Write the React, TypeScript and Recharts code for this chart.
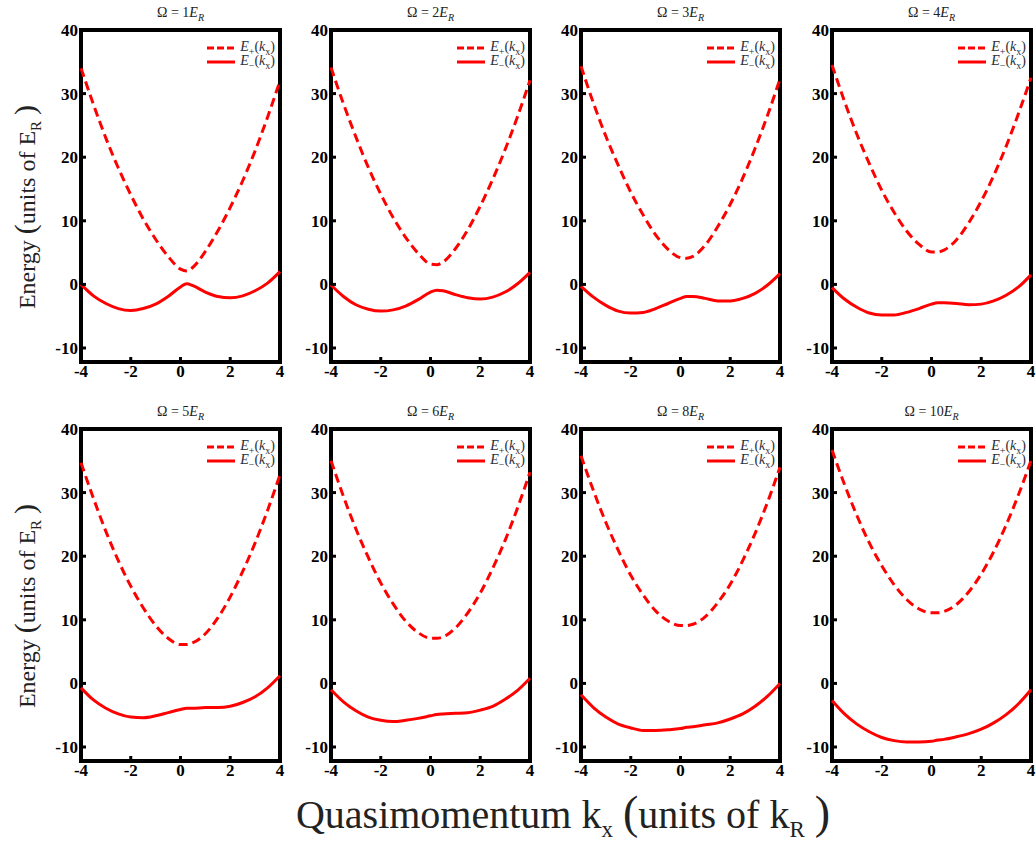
import { LineChart, Line, XAxis, YAxis, ReferenceArea, Legend } from "recharts";

const SERIF = "'Liberation Serif', 'Times New Roman', 'DejaVu Serif', serif";
const RED = "#ff0000";

const kx = [-4, -3.5, -3, -2.5, -2, -1.5, -1, -0.5, 0, 0.25, 0.5, 1, 1.5, 2, 2.5, 3, 3.5, 4];
const xTicks = [-4, -2, 0, 2, 4];
const yTicks = [-10, 0, 10, 20, 30, 40];
const omegas = [1, 2, 3, 4, 5, 6, 8, 10];

// E+ (dashed) and E- (solid)
const ePlus1 = [34.0, 28.3, 23.0, 18.3, 14.1, 10.3, 7.1, 4.4, 2.4, 2.1, 2.7, 5.2, 8.4, 12.1, 16.3, 21.0, 26.3, 32.0];
const eMinus1 = [0.0, -1.8, -3.0, -3.8, -4.1, -3.8, -3.1, -1.9, -0.4, 0.1, -0.2, -1.2, -1.9, -2.1, -1.8, -1.0, 0.2, 2.0];
const ePlus2 = [34.1, 28.4, 23.2, 18.4, 14.2, 10.5, 7.4, 4.9, 3.2, 3.1, 3.5, 5.6, 8.6, 12.3, 16.5, 21.2, 26.4, 32.1];
const eMinus2 = [-0.1, -1.9, -3.2, -3.9, -4.2, -4.0, -3.4, -2.4, -1.2, -0.9, -1.0, -1.6, -2.1, -2.3, -2.0, -1.2, 0.1, 1.9];
const ePlus3 = [34.3, 28.5, 23.3, 18.7, 14.5, 10.9, 7.8, 5.5, 4.2, 4.1, 4.4, 6.2, 9.1, 12.6, 16.7, 21.4, 26.6, 32.3];
const eMinus3 = [-0.3, -2.0, -3.3, -4.2, -4.5, -4.4, -3.8, -3.0, -2.2, -1.9, -1.9, -2.2, -2.6, -2.6, -2.2, -1.4, -0.1, 1.7];
const ePlus4 = [34.5, 28.8, 23.6, 19.0, 14.8, 11.3, 8.4, 6.3, 5.1, 5.1, 5.4, 7.0, 9.7, 13.1, 17.1, 21.7, 26.9, 32.5];
const eMinus4 = [-0.5, -2.3, -3.6, -4.5, -4.8, -4.8, -4.4, -3.8, -3.1, -2.9, -2.9, -3.0, -3.2, -3.1, -2.6, -1.7, -0.4, 1.5];
const ePlus5 = [34.7, 29.1, 23.9, 19.3, 15.3, 11.9, 9.1, 7.1, 6.1, 6.1, 6.4, 7.8, 10.3, 13.6, 17.6, 22.1, 27.2, 32.8];
const eMinus5 = [-0.7, -2.6, -3.9, -4.8, -5.3, -5.4, -5.1, -4.6, -4.1, -3.9, -3.9, -3.8, -3.8, -3.6, -3.0, -2.1, -0.7, 1.2];
const ePlus6 = [35.0, 29.4, 24.3, 19.8, 15.8, 12.5, 9.8, 8.0, 7.1, 7.1, 7.3, 8.7, 11.1, 14.2, 18.1, 22.5, 27.6, 33.2];
const eMinus6 = [-1.0, -2.9, -4.3, -5.3, -5.8, -6.0, -5.8, -5.5, -5.1, -4.9, -4.8, -4.7, -4.6, -4.2, -3.6, -2.5, -1.1, 0.8];
const ePlus8 = [35.8, 30.3, 25.3, 20.9, 17.0, 13.9, 11.4, 9.8, 9.1, 9.1, 9.3, 10.5, 12.7, 15.6, 19.3, 23.6, 28.5, 34.0];
const eMinus8 = [-1.8, -3.8, -5.3, -6.4, -7.0, -7.4, -7.4, -7.3, -7.1, -6.9, -6.8, -6.5, -6.2, -5.6, -4.8, -3.6, -2.0, 0.0];
const ePlus10 = [36.7, 31.3, 26.4, 22.1, 18.5, 15.5, 13.2, 11.7, 11.1, 11.1, 11.3, 12.4, 14.4, 17.2, 20.7, 24.9, 29.7, 35.0];
const eMinus10 = [-2.7, -4.8, -6.4, -7.6, -8.5, -9.0, -9.2, -9.2, -9.1, -8.9, -8.8, -8.4, -7.9, -7.2, -6.2, -4.9, -3.2, -1.0];

const plusSeries = [ePlus1, ePlus2, ePlus3, ePlus4, ePlus5, ePlus6, ePlus8, ePlus10];
const minusSeries = [eMinus1, eMinus2, eMinus3, eMinus4, eMinus5, eMinus6, eMinus8, eMinus10];

const Y_MIN = -12.2;
const Y_MAX = 40;

const FRAME_LEFTS = [81, 331, 581, 832];
const FRAME_TOPS = [30, 429];
const FRAME_W = 199;
const FRAME_H = 332;
const YAXIS_W = 45;
const XAXIS_H = 30;
const M_TOP = 14;
const M_RIGHT = 6;

function LegendRow({ dashed, sign }: { dashed?: boolean; sign: string }) {
  return (
    <div style={{ display: "flex", alignItems: "center", height: 14 }}>
      <svg width={30} height={6} style={{ marginRight: 4 }}>
        <line
          x1={1}
          x2={29}
          y1={3}
          y2={3}
          stroke={RED}
          strokeWidth={3}
          strokeDasharray={dashed ? "7 3" : undefined}
        />
      </svg>
      <span style={{ fontFamily: SERIF, fontSize: 14, color: "#2a2f3a", whiteSpace: "nowrap" }}>
        <i>E</i>
        <sub style={{ fontSize: 10 }}>{sign}</sub>
        (<i>k</i>
        <sub style={{ fontSize: 10 }}>x</sub>)
      </span>
    </div>
  );
}

function LegendBox() {
  return (
    <div>
      <LegendRow dashed sign="+" />
      <LegendRow sign="−" />
    </div>
  );
}

function Panel({ idx }: { idx: number }) {
  const col = idx % 4;
  const row = Math.floor(idx / 4);
  const frameLeft = FRAME_LEFTS[col];
  const frameTop = FRAME_TOPS[row];
  const plus = plusSeries[idx];
  const minus = minusSeries[idx];
  const data = kx.map((k, i) => ({ k, plus: plus[i], minus: minus[i] }));
  const W = FRAME_W + YAXIS_W + M_RIGHT;
  const H = FRAME_H + M_TOP + XAXIS_H;

  return (
    <>
      <div
        style={{
          position: "absolute",
          left: frameLeft,
          top: frameTop - 25,
          width: FRAME_W,
          textAlign: "center",
          fontFamily: SERIF,
          fontSize: 14,
          color: "#222",
        }}
      >
        Ω = {omegas[idx]}
        <i>E</i>
        <sub style={{ fontSize: 10 }}>
          <i>R</i>
        </sub>
      </div>
      <div style={{ position: "absolute", left: frameLeft - YAXIS_W, top: frameTop - M_TOP }}>
        <LineChart width={W} height={H} data={data} margin={{ top: M_TOP, right: M_RIGHT, left: 0, bottom: 0 }}>
          <XAxis
            dataKey="k"
            type="number"
            domain={[-4, 4]}
            ticks={xTicks}
            height={XAXIS_H}
            axisLine={false}
            tickSize={-5}
            tickMargin={8}
            tickLine={{ stroke: "#000", strokeWidth: 3 }}
            tick={{ fill: "#000", fontFamily: SERIF, fontWeight: 700, fontSize: 17 }}
            interval={0}
          />
          <YAxis
            type="number"
            domain={[Y_MIN, Y_MAX]}
            ticks={yTicks}
            width={YAXIS_W}
            axisLine={false}
            tickSize={-5}
            tickMargin={8}
            tickLine={{ stroke: "#000", strokeWidth: 3 }}
            tick={{ fill: "#000", fontFamily: SERIF, fontWeight: 700, fontSize: 17 }}
            interval={0}
            allowDataOverflow
          />
          <Line
            dataKey="plus"
            type="monotone"
            stroke={RED}
            strokeWidth={3}
            strokeDasharray="9 5"
            dot={false}
            isAnimationActive={false}
          />
          <Line
            dataKey="minus"
            type="monotone"
            stroke={RED}
            strokeWidth={3}
            dot={false}
            isAnimationActive={false}
          />
          <ReferenceArea
            x1={-4}
            x2={4}
            y1={Y_MIN}
            y2={Y_MAX}
            fill="none"
            fillOpacity={0}
            stroke="#000"
            strokeWidth={4}
            strokeOpacity={1}
          />
          <Legend
            layout="horizontal"
            align="center"
            verticalAlign="middle"
            content={() => <LegendBox />}
            wrapperStyle={{ top: M_TOP + 11, right: 11, left: "auto", bottom: "auto", width: "auto", height: "auto" }}
          />
        </LineChart>
      </div>
    </>
  );
}

export default function App() {
  return (
    <div
      style={{
        position: "absolute",
        left: 0,
        top: 0,
        width: 1036,
        height: 843,
        overflow: "hidden",
        background: "#fff",
      }}
    >
      {omegas.map((_, i) => (
        <Panel key={i} idx={i} />
      ))}
      {FRAME_TOPS.map((t) => (
        <div
          key={t}
          style={{
            position: "absolute",
            left: 25 - 160,
            top: t + 157,
            width: 320,
            height: 40,
            lineHeight: "40px",
            transform: "rotate(-90deg)",
            textAlign: "center",
            fontFamily: SERIF,
            fontSize: 24,
            color: "#222",
            whiteSpace: "nowrap",
          }}
        >
          Energy <span style={{ fontSize: 30 }}>(</span>units of E
          <sub style={{ fontSize: 15 }}>R</sub> <span style={{ fontSize: 30 }}>)</span>
        </div>
      ))}
      <div
        style={{
          position: "absolute",
          left: 213,
          top: 786,
          width: 700,
          textAlign: "center",
          fontFamily: SERIF,
          fontSize: 40,
          color: "#222",
          whiteSpace: "nowrap",
        }}
      >
        Quasimomentum k<sub style={{ fontSize: 23 }}>x</sub> <span style={{ fontSize: 46 }}>(</span>units of k
        <sub style={{ fontSize: 23 }}>R</sub> <span style={{ fontSize: 46 }}>)</span>
      </div>
    </div>
  );
}
